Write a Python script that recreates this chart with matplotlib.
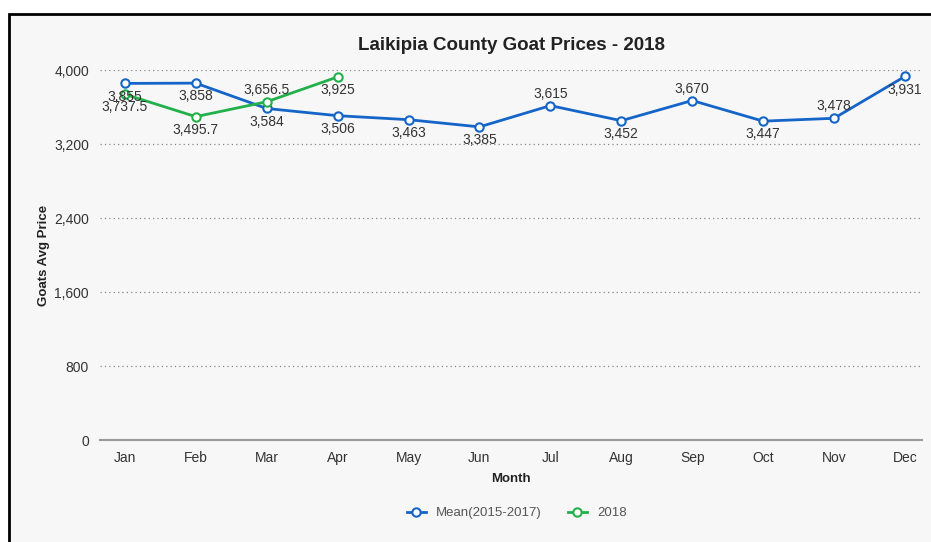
import matplotlib.pyplot as plt
from matplotlib.patches import Rectangle
from matplotlib.lines import Line2D

plt.rcParams['font.family'] = ['Liberation Sans', 'DejaVu Sans']

months = ["Jan", "Feb", "Mar", "Apr", "May", "Jun", "Jul", "Aug", "Sep", "Oct", "Nov", "Dec"]
mean_prices = [3855, 3858, 3584, 3506, 3463, 3385, 3615, 3452, 3670, 3447, 3478, 3931]
prices_2018 = [3737.5, 3495.7, 3656.5, 3925]
mean_labels = ["3,855", "3,858", "3,584", "3,506", "3,463", "3,385", "3,615", "3,452", "3,670", "3,447", "3,478", "3,931"]
labels_2018 = ["3,737.5", "3,495.7", "3,656.5", "3,925"]
yticks = [0, 800, 1600, 2400, 3200, 4000]

# label offsets in points (dx, dy)
dn, up = -9.5, 8.5
mean_off = [(0, dn), (0, dn), (0, dn), (0, dn), (0, dn), (0, dn),
            (0, up), (0, dn), (0, up), (0, dn), (0, up), (0, dn)]
off_2018 = [(0, dn), (0, dn), (0, up), (0, dn)]

blue = "#1565c8"
green = "#22b04a"
bg = "#f7f7f7"

fig = plt.figure(figsize=(9.31, 5.42), dpi=100)
fig.patch.set_facecolor("white")
fig.patches.append(Rectangle((9 / 931, -0.1), 1.1, 1 - 14 / 542 + 0.1, transform=fig.transFigure,
                             facecolor=bg, edgecolor="black", linewidth=2, zorder=-10))

ax = fig.add_axes([100 / 931, 1 - 440 / 542, 822 / 931, 370 / 542])
ax.set_facecolor(bg)
x = list(range(len(months)))

ax.plot(x, mean_prices, color=blue, lw=2, marker="o", ms=6, mfc="white", mec=blue, mew=1.5, zorder=3)
ax.plot(x[:len(prices_2018)], prices_2018, color=green, lw=2, marker="o", ms=6, mfc="white",
        mec=green, mew=1.5, zorder=4)

for i, (v, t) in enumerate(zip(mean_prices, mean_labels)):
    ax.annotate(t, (i, v), xytext=mean_off[i], textcoords="offset points", ha="center",
                va="center", fontsize=10, color="#333333", zorder=5)
for i, (v, t) in enumerate(zip(prices_2018, labels_2018)):
    ax.annotate(t, (i, v), xytext=off_2018[i], textcoords="offset points", ha="center",
                va="center", fontsize=10, color="#333333", zorder=5)

ax.set_xlim(-0.35, 11.24)
ax.set_ylim(0, 4000)
ax.set_xticks(x)
ax.set_xticklabels(months)
ax.set_yticks(yticks)
ax.set_yticklabels([f"{v:,}" for v in yticks])
ax.tick_params(length=0, labelsize=10, colors="#333333", pad=8)
for s in ["top", "right", "left"]:
    ax.spines[s].set_visible(False)
ax.spines["bottom"].set_color("#999999")
ax.spines["bottom"].set_linewidth(1.5)
for v in yticks[1:]:
    ax.axhline(v, color="#888888", lw=0.9, ls=(0, (1, 2.5)), zorder=1)

ax.set_xlabel("Month", fontsize=9.5, fontweight="bold", color="#222222", labelpad=6)
ax.set_ylabel("Goats Avg Price", fontsize=9.5, fontweight="bold", color="#222222", labelpad=3)
fig.text(512 / 931, 1 - 46 / 542, "Laikipia County Goat Prices - 2018", ha="center", va="center",
         fontsize=13.5, fontweight="bold", color="#222222")

handles = [Line2D([], [], color=blue, lw=2, marker="o", ms=6, mfc="white", mec=blue, mew=1.5),
           Line2D([], [], color=green, lw=2, marker="o", ms=6, mfc="white", mec=green, mew=1.5)]
fig.legend(handles, ["Mean(2015-2017)", "2018"], loc="center", bbox_to_anchor=(517 / 931, 1 - 513 / 542),
           ncol=2, frameon=False, fontsize=9.5, handlelength=1.4, columnspacing=2, labelcolor="#555555")

fig.savefig("out.png", dpi=100)
